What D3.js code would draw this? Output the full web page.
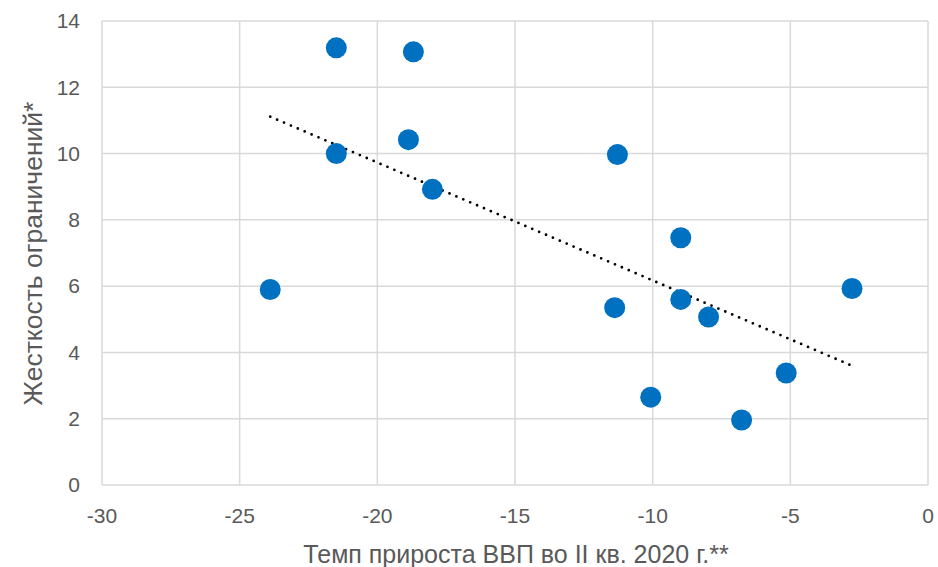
<!DOCTYPE html>
<html lang="ru">
<head>
<meta charset="UTF-8">
<title>scatter</title>
<style>
  body { margin: 0; background: #fff; }
  text { font-family: Arial, "Liberation Sans", sans-serif; fill: #595959; }
</style>
</head>
<body>
<script src="https://cdn.jsdelivr.net/npm/d3@7"></script>
<script>
// values
const gdpGrowth = [-21.49, -18.69, -21.49, -18.87, -18.0, -23.89, -11.28, -11.38, -8.98, -8.98, -7.97, -10.07, -6.77, -5.15, -2.76];
const strictness = [13.19, 13.07, 10.0, 10.42, 8.92, 5.9, 9.97, 5.35, 7.46, 5.6, 5.07, 2.65, 1.96, 3.38, 5.93];
const xTicks = [-30, -25, -20, -15, -10, -5, 0];
const yTicks = [0, 2, 4, 6, 8, 10, 12, 14];
const xTitle = 'Темп прироста ВВП во II кв. 2020 г.**';
const yTitle = 'Жесткость ограничений*';

const width = 938, height = 567;
const margin = {left: 102, right: 10, top: 21, bottom: 82};

let points = gdpGrowth.map((x, i) => ({x: x, y: strictness[i]}));

let svg = d3.select('body').append('svg')
    .attr('width', width)
    .attr('height', height);

let x = d3.scaleLinear().domain([-30, 0]).range([margin.left, width - margin.right]);
let y = d3.scaleLinear().domain([0, 14]).range([height - margin.bottom, margin.top]);

// grid
svg.append('g').selectAll('line.v')
    .data(xTicks).enter().append('line')
    .attr('x1', d => x(d)).attr('x2', d => x(d))
    .attr('y1', y(0)).attr('y2', y(14))
    .style('stroke', '#d9d9d9').style('stroke-width', 1.5);

svg.append('g').selectAll('line.h')
    .data(yTicks).enter().append('line')
    .attr('x1', x(-30)).attr('x2', x(0))
    .attr('y1', d => y(d)).attr('y2', d => y(d))
    .style('stroke', '#d9d9d9').style('stroke-width', 1.5);

// tick labels
svg.append('g').selectAll('text')
    .data(yTicks).enter().append('text')
    .attr('x', margin.left - 22)
    .attr('y', d => y(d))
    .attr('dy', '0.35em')
    .attr('text-anchor', 'end')
    .style('font-size', '21px')
    .text(d => d);

svg.append('g').selectAll('text')
    .data(xTicks).enter().append('text')
    .attr('x', d => x(d))
    .attr('y', 523)
    .attr('text-anchor', 'middle')
    .style('font-size', '21px')
    .text(d => d);

// linear trend (least squares)
let mx = d3.mean(points, d => d.x), my = d3.mean(points, d => d.y);
let slope = d3.sum(points, d => (d.x - mx) * (d.y - my)) / d3.sum(points, d => (d.x - mx) * (d.x - mx));
let icpt = my - slope * mx;
let [x0, x1] = d3.extent(points, d => d.x);

svg.append('line')
    .attr('x1', x(x0)).attr('y1', y(icpt + slope * x0))
    .attr('x2', x(x1)).attr('y2', y(icpt + slope * x1))
    .style('stroke', '#000')
    .style('stroke-width', 2.8)
    .style('stroke-linecap', 'round')
    .style('stroke-dasharray', '0 7.5');

// points
svg.append('g').selectAll('circle')
    .data(points).enter().append('circle')
    .attr('cx', d => x(d.x))
    .attr('cy', d => y(d.y))
    .attr('r', 10.5)
    .attr('fill', '#0070c0');

// axis titles
svg.append('text')
    .attr('x', 516)
    .attr('y', 563)
    .attr('text-anchor', 'middle')
    .style('font-size', '25px')
    .text(xTitle);

svg.append('text')
    .attr('transform', 'translate(42,253.5) rotate(-90)')
    .attr('text-anchor', 'middle')
    .style('font-size', '26.5px')
    .text(yTitle);
</script>
</body>
</html>
